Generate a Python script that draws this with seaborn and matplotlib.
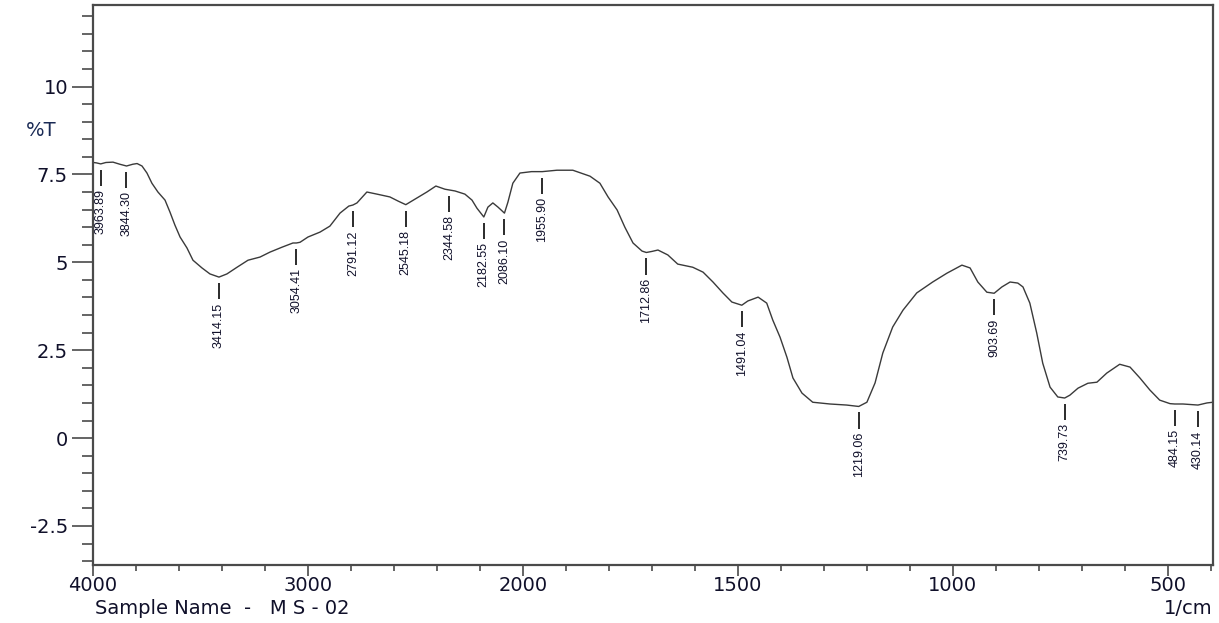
import numpy as np
import pandas as pd
import matplotlib
matplotlib.use('Agg')
import matplotlib.pyplot as plt
import seaborn as sns
from matplotlib.ticker import FixedLocator, NullFormatter

sns.set_theme(style='white')
plt.rcParams['font.family'] = ['DejaVu Sans']

# spectrum (wavenumber 1/cm, %T)
wavenumber = [4000, 3985, 3964, 3940, 3907, 3875, 3844, 3815, 3795, 3772,
              3749, 3726, 3698, 3665, 3642, 3619, 3595, 3563, 3535, 3493,
              3456, 3414, 3377, 3330, 3279, 3223, 3177, 3121, 3070, 3054,
              3037, 3000, 2944, 2898, 2851, 2810, 2791, 2772, 2726, 2679,
              2619, 2580, 2545, 2493, 2447, 2405, 2363, 2344, 2316, 2270,
              2237, 2214, 2182, 2163, 2140, 2116, 2086, 2070, 2047, 2014,
              1980, 1955, 1921, 1884, 1844, 1821, 1802, 1781, 1763, 1744,
              1723, 1713, 1700, 1686, 1663, 1640, 1605, 1581, 1558, 1535,
              1514, 1491, 1477, 1453, 1433, 1419, 1402, 1386, 1372, 1351,
              1326, 1286, 1247, 1219, 1200, 1181, 1163, 1140, 1116, 1084,
              1047, 1014, 979, 960, 942, 921, 904, 886, 867, 849,
              837, 821, 805, 791, 774, 756, 740, 728, 709, 686,
              665, 642, 612, 588, 565, 542, 519, 495, 484, 465,
              430, 409, 395]
transmittance = [7.84, 7.83, 7.80, 7.84, 7.85, 7.79, 7.74, 7.79, 7.81, 7.74,
                 7.54, 7.25, 7.00, 6.77, 6.43, 6.06, 5.72, 5.41, 5.06, 4.84,
                 4.67, 4.58, 4.67, 4.86, 5.06, 5.15, 5.29, 5.43, 5.55, 5.55,
                 5.57, 5.72, 5.86, 6.03, 6.40, 6.60, 6.63, 6.69, 7.00, 6.94,
                 6.86, 6.74, 6.64, 6.83, 7.00, 7.17, 7.08, 7.06, 7.03, 6.94,
                 6.77, 6.54, 6.29, 6.57, 6.69, 6.57, 6.40, 6.71, 7.25, 7.54,
                 7.58, 7.58, 7.62, 7.62, 7.45, 7.25, 6.86, 6.49, 6.00, 5.55,
                 5.32, 5.28, 5.31, 5.35, 5.21, 4.95, 4.86, 4.72, 4.44, 4.13,
                 3.87, 3.78, 3.90, 4.01, 3.84, 3.36, 2.87, 2.30, 1.71, 1.28,
                 1.02, 0.97, 0.94, 0.90, 1.02, 1.57, 2.42, 3.16, 3.64, 4.13,
                 4.44, 4.69, 4.92, 4.84, 4.44, 4.15, 4.12, 4.30, 4.44, 4.41,
                 4.30, 3.84, 2.99, 2.13, 1.45, 1.17, 1.14, 1.22, 1.42, 1.56,
                 1.59, 1.85, 2.10, 2.02, 1.71, 1.37, 1.08, 0.98, 0.97, 0.97,
                 0.94, 1.00, 1.02]

peak_positions = [3963.89, 3844.30, 3414.15, 3054.41, 2791.12, 2545.18, 2344.58,
                  2182.55, 2086.10, 1955.90, 1712.86, 1491.04, 1219.06, 903.69,
                  739.73, 484.15, 430.14]

x_major = [4000, 3000, 2000, 1500, 1000, 500]
x_minor = [3800, 3600, 3400, 3200, 2800, 2600, 2400, 2200,
           1900, 1800, 1700, 1600, 1400, 1300, 1200, 1100,
           900, 800, 700, 600, 400]
y_major = [-2.5, 0, 2.5, 5, 7.5, 10]
y_major_labels = ['-2.5', '0', '2.5', '5', '7.5', '10']

df = pd.DataFrame({'wn': wavenumber, 'T': transmittance})

TXT = '#10102a'
AXC = '#4a4a4a'

fig = plt.figure(figsize=(12.19, 6.23), dpi=100)
ax = fig.add_axes([93 / 1219, 1 - 565 / 623, (1213 - 93) / 1219, (565 - 5) / 623])

sns.lineplot(data=df, x='wn', y='T', ax=ax, color='#3a3a3a', linewidth=1.0, sort=False)


# shimadzu style axis: 4000-2000 region compressed by 2
def fwd(x):
    x = np.asarray(x, dtype=float)
    return np.where(x > 2000, 2000 + (x - 2000) / 2, x)


def inv(u):
    u = np.asarray(u, dtype=float)
    return np.where(u > 2000, 2000 + (u - 2000) * 2, u)


ax.set_xscale('function', functions=(fwd, inv))
ax.set_xlim(4000, 395)
ax.set_ylim(-3.61, 12.32)

ax.xaxis.set_major_locator(FixedLocator(x_major))
ax.xaxis.set_minor_locator(FixedLocator(x_minor))
ax.set_xticklabels([str(v) for v in x_major])
ax.xaxis.set_minor_formatter(NullFormatter())
ax.yaxis.set_major_locator(FixedLocator(y_major))
ax.yaxis.set_minor_locator(FixedLocator(np.arange(-3.5, 12.01, 0.5)))
ax.set_yticklabels(y_major_labels)

ax.tick_params(axis='y', which='major', length=15, width=1.2, color=AXC,
               labelsize=14, labelcolor=TXT, pad=3, left=True, direction='out')
ax.tick_params(axis='y', which='minor', length=8, width=1.2, color=AXC, left=True, direction='out')
ax.tick_params(axis='x', which='major', length=8, width=1.2, color=AXC,
               labelsize=14, labelcolor=TXT, pad=0, bottom=True, direction='out')
ax.tick_params(axis='x', which='minor', length=4.5, width=1.2, color=AXC, bottom=True, direction='out')

for side in ['top', 'right', 'left', 'bottom']:
    ax.spines[side].set_color(AXC)
    ax.spines[side].set_linewidth(1.6)
ax.set_xlabel('')
ax.set_ylabel('')
ax.grid(False)

# peak markers
wn_inc = np.array(wavenumber)[::-1]
t_inc = np.array(transmittance)[::-1]
for p in peak_positions:
    t = np.interp(p, wn_inc, t_inc)
    ax.vlines(p, t - 0.63, t - 0.17, color='#1a1a1a', linewidth=1.3)
    ax.text(p, t - 0.72, f'{p:.2f}', rotation=90, ha='center', va='top',
            fontsize=9, color=TXT, family=['Liberation Sans', 'DejaVu Sans'])

fig.text(41 / 1219, 1 - 131 / 623, '%T', ha='center', va='center',
         fontsize=14, color='#1a2a55')
fig.text(95 / 1219, 1 - 609 / 623, 'Sample Name  -   M S - 02', ha='left', va='center',
         fontsize=14, color=TXT)
fig.text(1213 / 1219, 1 - 609 / 623, '1/cm', ha='right', va='center',
         fontsize=14, color=TXT)

fig.savefig('out.png', dpi=100)
